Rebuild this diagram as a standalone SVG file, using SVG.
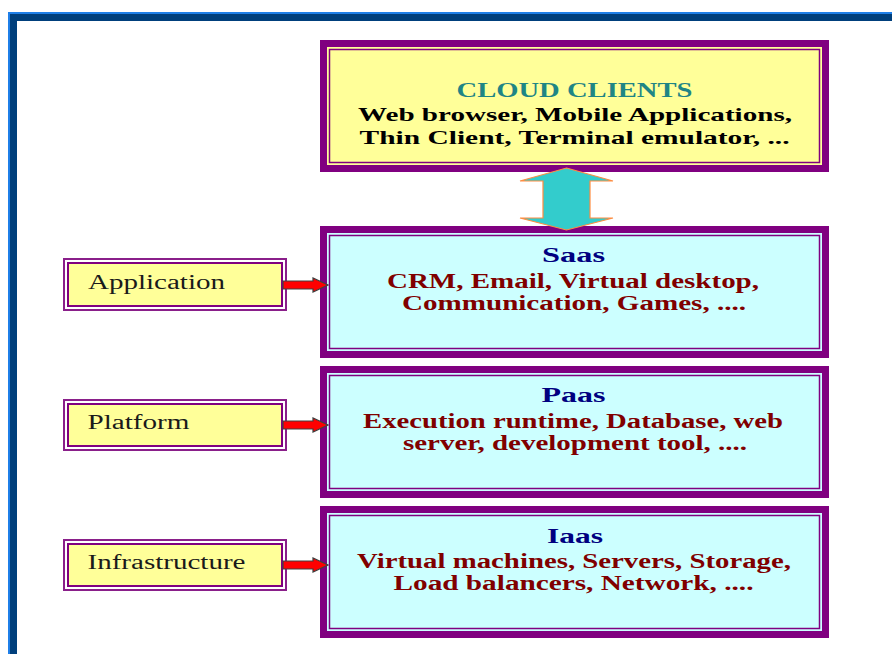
<svg xmlns="http://www.w3.org/2000/svg" width="892" height="654" viewBox="0 0 892 654">
<style>
.frame{fill:#003f7c}
.edge{stroke:#1f7fe8;stroke-width:2;fill:none}
.big{stroke:#800080;stroke-width:7}
.inner{fill:none;stroke:#800080;stroke-width:1.5}
.yel{fill:#ffff99}
.cyan{fill:#ccffff}
.lbl-out{fill:#ffffff;stroke:#8a1f8a;stroke-width:2}
.lbl-in{fill:#ffff99;stroke:#800080;stroke-width:2}
.t{font-family:"Liberation Serif","Times New Roman",serif;font-weight:bold;text-anchor:middle}
.lt{font-family:"Liberation Serif","Times New Roman",serif;font-size:20px;fill:#1a1a1a}
.ttl{font-size:22px;fill:#000080}
.body{font-size:20px;fill:#800000}
.red{fill:#ff0000;stroke:#404040;stroke-width:1.2;stroke-linejoin:miter}
</style>
<rect width="892" height="654" fill="#ffffff"/>
<g id="frame">
<rect class="frame" x="8" y="12" width="884" height="9"/>
<rect class="frame" x="8" y="12" width="9" height="642"/>
<path class="edge" d="M9 654 V13 H892"/>
</g>
<g id="cloud-clients">
<rect class="big yel" x="323.5" y="43.5" width="502" height="125"/>
<rect class="inner" x="329.5" y="49.5" width="490" height="113"/>
<text class="t" x="574.5" y="97" font-size="20" fill="#1f8585" textLength="236" lengthAdjust="spacingAndGlyphs">CLOUD CLIENTS</text>
<text class="t" x="575" y="121" font-size="19" fill="#000000" textLength="434" lengthAdjust="spacingAndGlyphs">Web browser, Mobile Applications,</text>
<text class="t" x="574.5" y="143.5" font-size="19" fill="#000000" textLength="430" lengthAdjust="spacingAndGlyphs">Thin Client, Terminal emulator, ...</text>
</g>
<g id="saas">
<rect class="big cyan" x="323.5" y="229.5" width="502" height="125"/>
<rect class="inner" x="329.5" y="235.5" width="490" height="113"/>
<text class="t ttl" x="573.5" y="262" textLength="63" lengthAdjust="spacingAndGlyphs">Saas</text>
<text class="t body" x="573" y="288" textLength="372" lengthAdjust="spacingAndGlyphs">CRM, Email, Virtual desktop,</text>
<text class="t body" x="574" y="310" textLength="344" lengthAdjust="spacingAndGlyphs">Communication, Games, ....</text>
</g>
<g id="paas">
<rect class="big cyan" x="323.5" y="369.5" width="502" height="125"/>
<rect class="inner" x="329.5" y="375.5" width="490" height="113"/>
<text class="t ttl" x="573.5" y="402" textLength="64" lengthAdjust="spacingAndGlyphs">Paas</text>
<text class="t body" x="573" y="428" textLength="420" lengthAdjust="spacingAndGlyphs">Execution runtime, Database, web</text>
<text class="t body" x="575" y="450" textLength="344" lengthAdjust="spacingAndGlyphs">server, development tool, ....</text>
</g>
<g id="iaas">
<rect class="big cyan" x="323.5" y="509.5" width="502" height="125"/>
<rect class="inner" x="329.5" y="515.5" width="490" height="113"/>
<text class="t ttl" x="575" y="542.5" textLength="56" lengthAdjust="spacingAndGlyphs">Iaas</text>
<text class="t body" x="574" y="567.5" textLength="434" lengthAdjust="spacingAndGlyphs">Virtual machines, Servers, Storage,</text>
<text class="t body" x="573.5" y="589.5" textLength="360" lengthAdjust="spacingAndGlyphs">Load balancers, Network, ....</text>
</g>
<g id="application">
<rect class="lbl-out" x="64" y="259" width="222" height="51"/>
<rect class="lbl-in" x="68" y="263" width="214" height="43"/>
<text class="lt" x="88" y="288.5" textLength="137" lengthAdjust="spacingAndGlyphs">Application</text>
</g>
<g id="platform">
<rect class="lbl-out" x="64" y="400" width="222" height="50"/>
<rect class="lbl-in" x="68" y="404" width="214" height="42"/>
<text class="lt" x="87.5" y="428.5" textLength="102" lengthAdjust="spacingAndGlyphs">Platform</text>
</g>
<g id="infrastructure">
<rect class="lbl-out" x="64" y="540" width="222" height="50"/>
<rect class="lbl-in" x="68" y="544" width="214" height="42"/>
<text class="lt" x="87.5" y="568.5" textLength="158" lengthAdjust="spacingAndGlyphs">Infrastructure</text>
</g>
<g id="connectors">
<polygon points="566.5,168 613,181 590,181 590,218 613,218 566.5,230 520,218 543,218 543,181 520,181" fill="#33cccc" stroke="#ff8c40" stroke-width="1.2"/>
<polygon class="red" points="283,281 313,281 313,278 328,285 313,292 313,289 283,289"/>
<polygon class="red" points="283,421 313,421 313,418 328,425 313,432 313,429 283,429"/>
<polygon class="red" points="283,561 313,561 313,558 328,565 313,572 313,569 283,569"/>
</g>
</svg>
